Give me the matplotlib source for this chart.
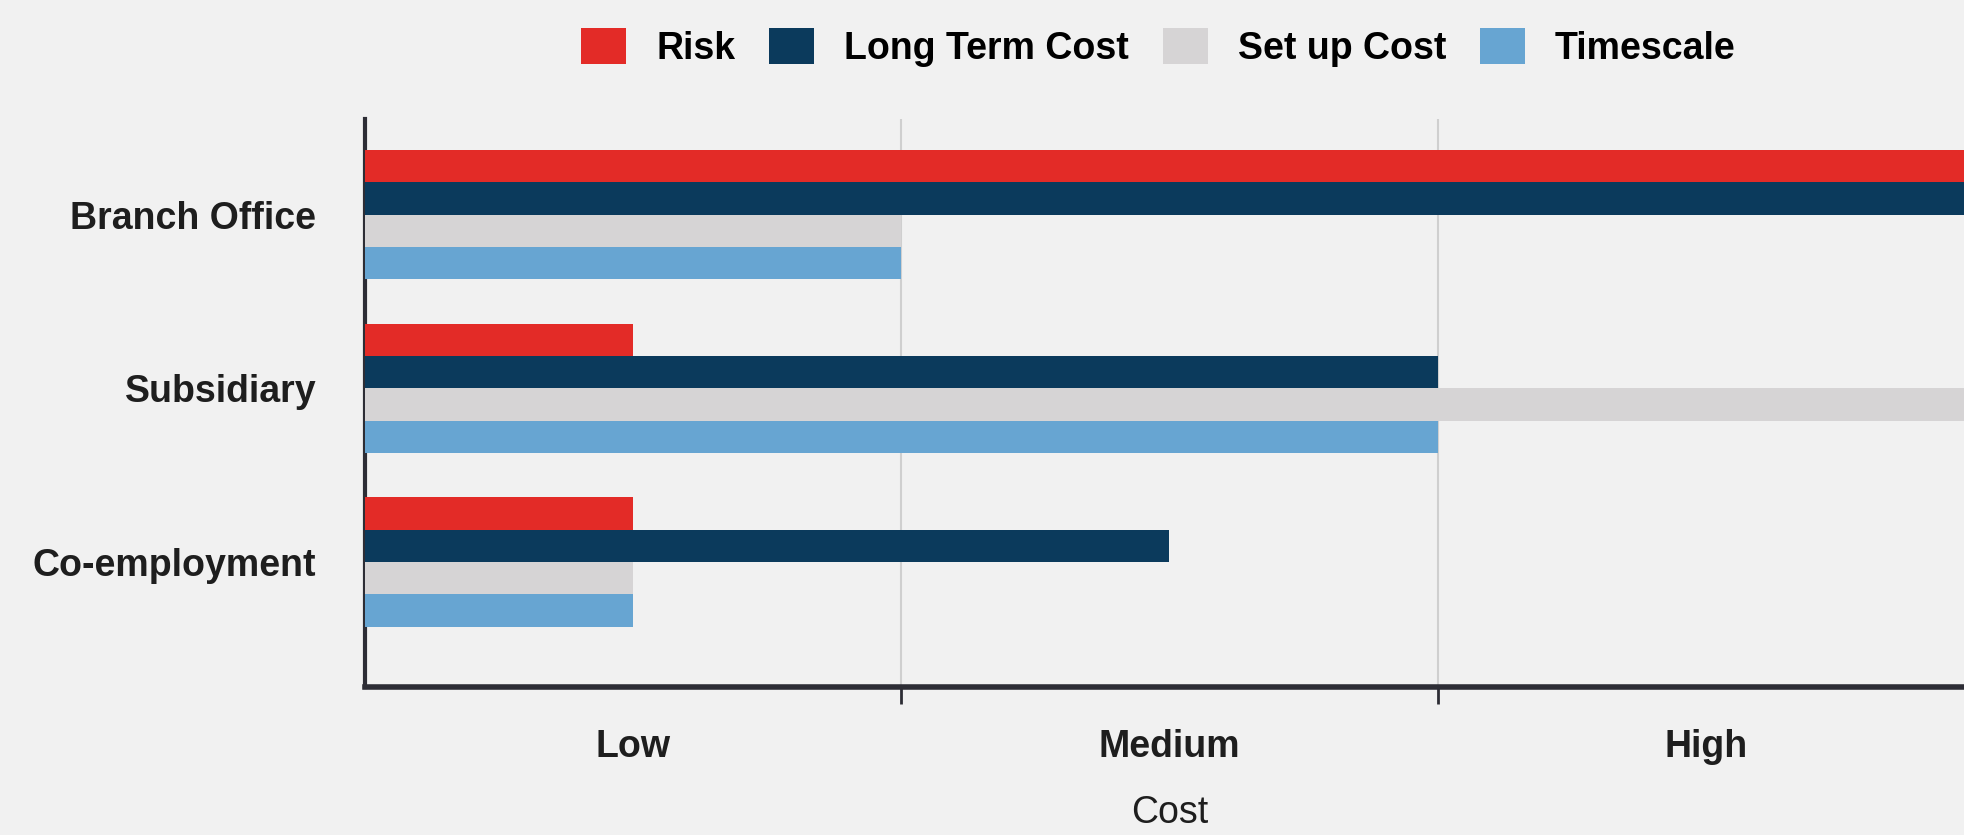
import numpy as np
import matplotlib
matplotlib.use('Agg')

import matplotlib.pyplot as plt

categories = ['Branch Office', 'Subsidiary', 'Co-employment']
series_names = ['Risk', 'Long Term Cost', 'Set up Cost', 'Timescale']
risk = [3, 0.5, 0.5]
long_term_cost = [3, 2, 1.5]
set_up_cost = [1, 3, 0.5]
timescale = [1, 2, 0.5]
level_labels = ['Low', 'Medium', 'High']

COLORS = ['#e32b27', '#0b3a5c', '#d6d4d5', '#67a5d2']
BG = '#f1f1f1'
AXIS_COLOR = '#2d2d35'

plt.rcParams['font.family'] = ['Liberation Sans', 'DejaVu Sans']


def plot():
    fig = plt.figure(figsize=(19.65, 8.35), dpi=100, facecolor=BG)
    ax = fig.add_axes([365 / 1965, 148 / 835, 1609 / 1965, 568 / 835])
    ax.set_facecolor(BG)

    y = np.arange(len(categories))
    bar_h = 0.186
    for i, (name, vals) in enumerate(zip(series_names, [risk, long_term_cost, set_up_cost, timescale])):
        ax.barh(y + (i - 1.5) * bar_h, vals, height=bar_h, color=COLORS[i], label=name, zorder=3)

    ax.set_xlim(0, 3)
    ax.set_ylim(2.72, -0.55)

    ax.set_yticks(y)
    ax.set_yticklabels(categories, fontsize=27, fontweight='bold', color='#1e1e1e')
    ax.tick_params(axis='y', length=0, pad=35)
    for lbl in ax.get_yticklabels():
        lbl.set_va('center_baseline')

    ax.set_xticks([1, 2])
    ax.set_xticklabels([])
    ax.set_xticks([0.5, 1.5, 2.5], minor=True)
    ax.set_xticklabels(level_labels, minor=True, fontsize=27, fontweight='bold', color='#1e1e1e')
    ax.tick_params(axis='x', which='major', length=12, width=2, color=AXIS_COLOR)
    ax.tick_params(axis='x', which='minor', length=0, pad=30)
    ax.set_xlabel('Cost', fontsize=27, color='#1e1e1e', labelpad=22)

    ax.grid(axis='x', which='major', color='#cfcfcf', linewidth=1.5, zorder=0)
    ax.set_axisbelow(True)

    for side in ['top', 'right']:
        ax.spines[side].set_visible(False)
    ax.spines['left'].set_color(AXIS_COLOR)
    ax.spines['left'].set_linewidth(3)
    ax.spines['bottom'].set_color(AXIS_COLOR)
    ax.spines['bottom'].set_linewidth(4)

    fig.legend(loc='center', bbox_to_anchor=(0.5896, 0.943), ncol=4, frameon=False,
               prop={'size': 27, 'weight': 'bold'}, handlelength=1.2, handleheight=1.1,
               handletextpad=0.8, columnspacing=0.9)

    fig.savefig('out.png', dpi=100, facecolor=BG)
    plt.close(fig)


if __name__ == '__main__':
    plot()
